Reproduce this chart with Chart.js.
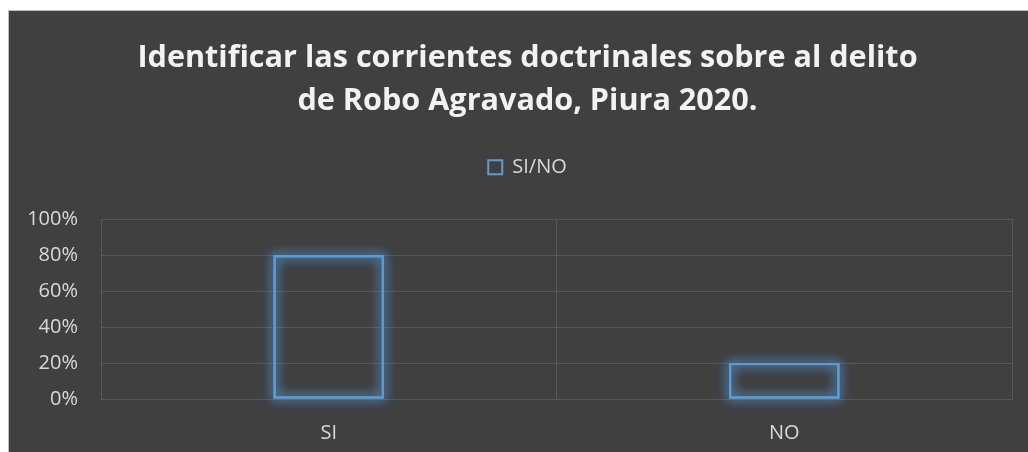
<!DOCTYPE html>
<html><head><meta charset="utf-8">
<script src="https://cdn.jsdelivr.net/npm/chart.js@4/dist/chart.umd.min.js"></script>
<style>
html,body{margin:0;padding:0;background:#fff;width:1028px;height:452px;overflow:hidden}
#wrap{position:absolute;left:8px;top:10px;width:1020px;height:442px;background:#404040;border-top:1px solid #bfbfbf;border-left:1px solid #bfbfbf;box-sizing:border-box}
canvas{display:block}
</style></head><body>
<div id="wrap"><canvas id="c"></canvas></div>
<script>
const categories = ["SI", "NO"];
const seriesName = "SI/NO";
const values = [0.80, 0.20];
const titleLines = ["Identificar las corrientes doctrinales sobre al delito", "de Robo Agravado, Piura 2020."];

const glow = {
  id: 'glow',
  afterDatasetDraw(chart, args) {
    const c = chart.ctx;
    const meta = args.meta;
    c.save();
    c.strokeStyle = '#5b9bd5';
    c.lineWidth = 2;
    c.shadowColor = 'rgba(91,155,213,0.9)';
    c.shadowBlur = 12;
    meta.data.forEach(el => {
      const p = el.getProps(['x', 'y', 'base', 'width'], true);
      const l = p.x - p.width / 2, t = Math.min(p.y, p.base), h = Math.abs(p.base - p.y);
      for (let i = 0; i < 3; i++) c.strokeRect(l + 1, t + 1, p.width - 2, h - 2);
    });
    c.restore();
  }
};

const legendGap = {
  id: 'legendGap',
  afterInit(chart) {
    const lg = chart.legend;
    if (!lg) return;
    const orig = lg.fit;
    lg.fit = function () { orig.call(this); this.height += 32; };
  }
};

new Chart(document.getElementById('c'), {
  type: 'bar',
  data: {
    labels: categories,
    datasets: [{
      label: seriesName,
      data: values,
      backgroundColor: 'rgba(0,0,0,0)',
      borderColor: '#5b9bd5',
      borderWidth: 2,
      categoryPercentage: 1,
      barPercentage: 0.242
    }]
  },
  options: {
    responsive: true,
    maintainAspectRatio: false,
    animation: false,
    layout: { padding: { left: 18, right: 0, top: 26, bottom: 0 } },
    plugins: {
      title: {
        display: true,
        text: titleLines,
        color: '#f2f2f2',
        font: { family: 'Open Sans', size: 30.6, weight: 'bold', lineHeight: 1.41 },
        padding: { top: 0, bottom: 24 }
      },
      legend: {
        display: true,
        labels: { color: '#d9d9d9', font: { family: 'Open Sans', size: 20 }, boxWidth: 14, boxHeight: 14, padding: 10 }
      },
      tooltip: { enabled: false }
    },
    scales: {
      x: {
        grid: { color: '#585858', drawTicks: false, offset: true },
        border: { display: false },
        ticks: { color: '#d9d9d9', font: { family: 'Open Sans', size: 20 }, padding: 22 },
        afterFit(scale) { scale.height = 53; }
      },
      y: {
        min: 0, max: 1,
        grid: { color: '#585858', drawTicks: false },
        border: { display: false },
        ticks: {
          stepSize: 0.2, color: '#d9d9d9', font: { family: 'Open Sans', size: 20 }, padding: 23,
          callback: v => Math.round(v * 100) + '%'
        },
        afterFit(scale) { scale.width = 74; }
      },
      yRightSpace: {
        position: 'right',
        display: true,
        grid: { display: false, drawTicks: false },
        border: { display: false },
        ticks: { display: false },
        afterFit(scale) { scale.width = 16; }
      }
    }
  },
  plugins: [glow, legendGap]
});
</script>
</body></html>
